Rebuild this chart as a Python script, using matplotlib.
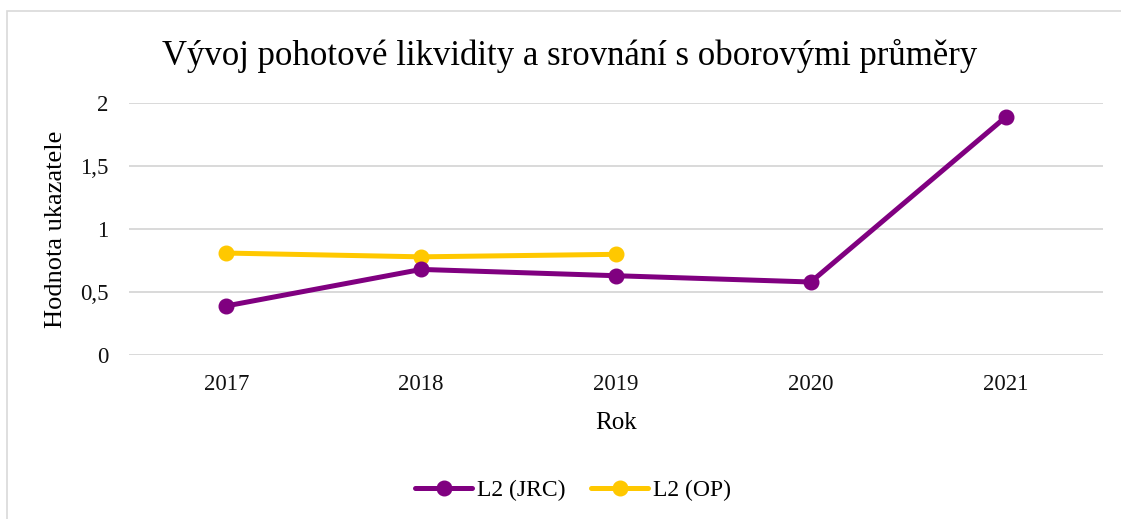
import matplotlib.pyplot as plt
from matplotlib.patches import Rectangle
from matplotlib.ticker import FuncFormatter

# data
years = ["2017", "2018", "2019", "2020", "2021"]
l2_jrc = [0.39, 0.68, 0.63, 0.58, 1.89]
l2_op = [0.81, 0.78, 0.80]

plt.rcParams['font.family'] = ['Liberation Serif', 'DejaVu Serif']

fig = plt.figure(figsize=(11.21, 5.19), dpi=100)

# light chart border (Excel style, cropped on right/bottom)
fig.patches.append(Rectangle((7 / 1121, -0.1), 1.2, 1 - 11 / 519 + 0.1,
                             transform=fig.transFigure, fill=False,
                             edgecolor='#d9d9d9', linewidth=1.2))

ax = fig.add_axes([129 / 1121, 1 - 355 / 519, (1103 - 129) / 1121, (355 - 103.3) / 519])

x = list(range(len(years)))
ax.plot(x, l2_jrc, color='#800080', linewidth=3.6, marker='o', markersize=10.5,
        label='L2 (JRC)', solid_capstyle='round', zorder=3)
ax.plot(x[:len(l2_op)], l2_op, color='#FFC800', linewidth=3.6, marker='o', markersize=10.5,
        label='L2 (OP)', solid_capstyle='round', zorder=2)

ax.set_xlim(-0.5, len(years) - 0.5)
ax.set_ylim(0, 2)
ax.set_xticks(x)
ax.set_xticklabels(years)
ax.set_yticks([0, 0.5, 1, 1.5, 2])
ax.yaxis.set_major_formatter(FuncFormatter(lambda v, p: f"{v:g}".replace('.', ',')))
ax.tick_params(axis='both', length=0, labelsize=16.5, colors='#111111')
ax.tick_params(axis='y', pad=15)
ax.tick_params(axis='x', pad=14)
ax.grid(axis='y', color='#d9d9d9', linewidth=1.4)
ax.set_axisbelow(True)
for s in ax.spines.values():
    s.set_visible(False)

ax.set_ylabel("Hodnota ukazatele", fontsize=19, labelpad=9)
ax.set_xlabel("Rok", fontsize=18, labelpad=12)

fig.text(570 / 1121, 1 - 56 / 519, "Vývoj pohotové likvidity a srovnání s oborovými průměry",
         ha='center', va='center', fontsize=25)

fig.legend(loc='center', bbox_to_anchor=(573 / 1121, 1 - 490 / 519), ncol=2, frameon=False,
           fontsize=17, handlelength=2.4, handletextpad=0.2, columnspacing=1.1)

fig.savefig("out.png", dpi=100)
